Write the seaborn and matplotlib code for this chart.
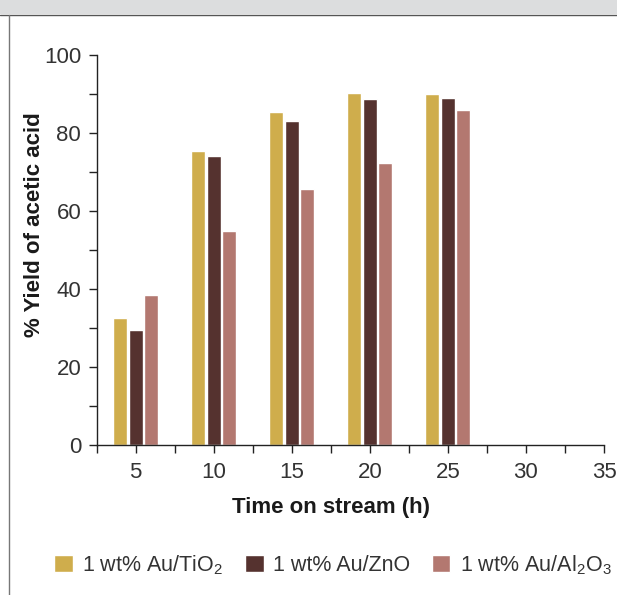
import numpy as np
import pandas as pd
import matplotlib
matplotlib.use('Agg')
import matplotlib.pyplot as plt
from matplotlib.patches import Rectangle
from matplotlib.lines import Line2D
from matplotlib.ticker import MultipleLocator
import seaborn as sns

# values
hours = [5, 10, 15, 20, 25]
tio2 = [32.5, 75.5, 85.3, 90.2, 89.9]
zno = [29.4, 74.2, 83.0, 88.7, 88.9]
al2o3 = [38.4, 54.9, 65.7, 72.4, 85.8]
catalysts = ['1 wt% Au/TiO$_2$', '1 wt% Au/ZnO', '1 wt% Au/Al$_2$O$_3$']
colors = ['#cfad4c', '#55322f', '#b37870']

df = pd.DataFrame({
    'time': hours * 3,
    'yield': tio2 + zno + al2o3,
    'catalyst': np.repeat(catalysts, len(hours)),
})

sns.set_style('ticks')
plt.rcParams['font.family'] = ['Liberation Sans', 'DejaVu Sans']
plt.rcParams['mathtext.fontset'] = 'custom'
plt.rcParams['mathtext.rm'] = 'Liberation Sans'
plt.rcParams['mathtext.it'] = 'Liberation Sans'

fig = plt.figure(figsize=(6.17, 5.95), dpi=100)
W, H = 617, 595

# page frame: grey band at top, rule lines
fig.add_artist(Rectangle((0, 1 - 14 / H), 1, 14 / H, transform=fig.transFigure,
                         facecolor='#dcddde', edgecolor='none'))
fig.add_artist(Line2D([0, 1], [1 - 14.5 / H] * 2, transform=fig.transFigure,
                      color='#555555', lw=1))
fig.add_artist(Line2D([9 / W] * 2, [0, 1 - 14.5 / H], transform=fig.transFigure,
                      color='#777777', lw=1))

ax = fig.add_axes([96.5 / W, 1 - 445 / H, (604 - 96.5) / W, 390 / H])
sns.barplot(data=df, x='time', y='yield', hue='catalyst', palette=colors,
            native_scale=True, width=0.6, gap=0.1, saturation=1,
            errorbar=None, ax=ax)

ax.set_xlim(2.5, 35)
ax.set_ylim(0, 100)
ax.set_xticks(range(5, 36, 5))
ax.xaxis.set_minor_locator(MultipleLocator(2.5))
ax.yaxis.set_major_locator(MultipleLocator(20))
ax.yaxis.set_minor_locator(MultipleLocator(10))
ax.tick_params(which='both', direction='out', color='#222222', width=1)
ax.tick_params(which='major', length=6, labelsize=16, labelcolor='#333333')
ax.tick_params(which='minor', length=6)
ax.tick_params(axis='y', pad=5)
ax.tick_params(axis='x', pad=6)
for s in ['left', 'bottom']:
    ax.spines[s].set_color('#222222')
    ax.spines[s].set_linewidth(1)
sns.despine(ax=ax)

ax.set_xlabel('Time on stream (h)', fontsize=16, fontweight='bold', color='#1a1a1a')
ax.set_ylabel('% Yield of acetic acid', fontsize=16, fontweight='bold', color='#1a1a1a')
ax.xaxis.set_label_coords((331 - 96.5) / 507.5, (445 - 497) / 390)
ax.yaxis.set_label_coords((45 - 96.5) / 507.5, (445 - 225) / 390)

handles, labels = ax.get_legend_handles_labels()
ax.get_legend().remove()
fig.legend(handles, labels, loc='center', bbox_to_anchor=(333 / W, 1 - 565 / H),
           ncol=3, frameon=False, fontsize=15.5, handlelength=0.85, handleheight=0.85,
           handletextpad=0.45, columnspacing=1.0, labelcolor='#333333')

fig.savefig('out.png', dpi=100)
